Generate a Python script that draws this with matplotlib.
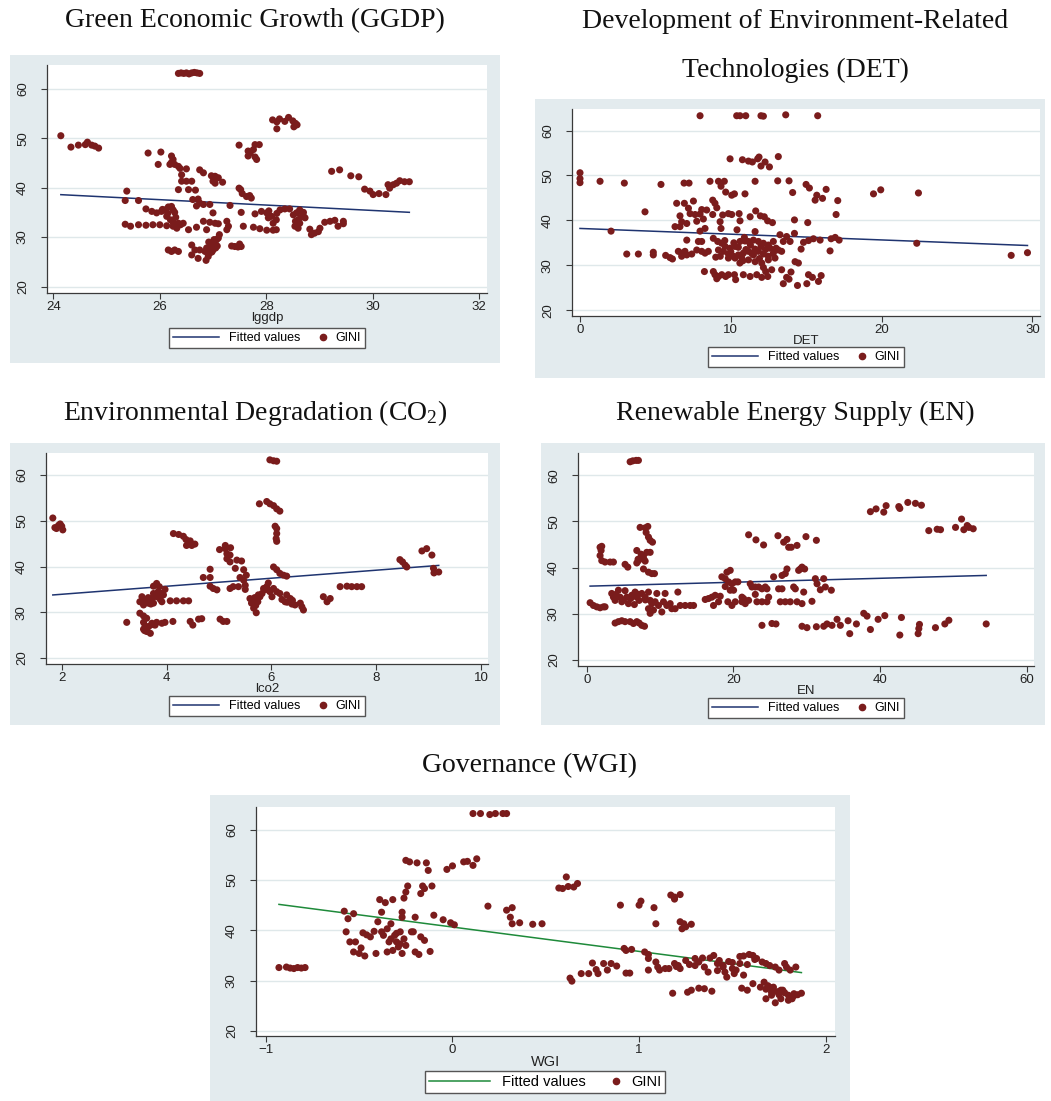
import matplotlib
matplotlib.use("Agg")
import matplotlib.pyplot as plt
import numpy as np
from matplotlib.patches import Rectangle
from matplotlib.lines import Line2D
from matplotlib.legend_handler import HandlerLine2D

plt.rcParams['font.family'] = ['Liberation Sans', 'DejaVu Sans']
plt.rcParams['mathtext.fontset'] = 'custom'
plt.rcParams['mathtext.rm'] = 'Liberation Serif'
plt.rcParams['mathtext.it'] = 'Liberation Serif'

# ---------------- data ----------------
legend_labels = ["Fitted values", "GINI"]

# Green economic growth (log GGDP) vs GINI
ggdp_x = [24.14, 24.33, 24.47, 24.6, 24.64, 24.72, 24.78, 24.85,
          26.35, 26.4, 26.45, 26.5, 26.55, 26.6, 26.65, 26.7, 26.75,
          28.12, 28.2, 28.2, 28.25, 28.35, 28.42, 28.5, 28.52, 28.55, 28.58,
          27.49, 27.66, 27.66, 27.76, 27.79, 27.87, 27.82, 27.79, 27.70,
          25.78, 26.02, 25.97, 26.22, 26.25, 26.19, 26.28, 26.35, 26.38, 26.5, 26.41, 26.35, 26.54, 26.67, 26.41, 26.5, 26.6, 26.22,
          26.75, 26.82, 26.97, 27.04, 27.1, 27.0, 27.04, 27.18,
          27.49, 27.52, 27.55, 27.63, 27.69, 27.72,
          25.38, 25.35, 25.6,
          29.23, 29.38, 29.59, 29.74,
          29.85, 29.95, 30.01, 30.12, 30.25, 30.29, 30.32, 30.39, 30.45, 30.51, 30.6, 30.69,
          25.74, 25.85, 25.94, 26.03, 26.1, 26.16, 26.22, 26.25, 26.28, 26.13,
          25.35, 25.45, 25.6, 25.74, 25.87, 26.0, 26.13, 26.25, 26.32, 26.39, 26.44, 26.54, 26.69,
          26.62, 26.72, 26.75, 26.82, 26.94, 26.69, 27.0, 26.82, 26.94, 27.04, 27.1, 27.26, 27.29, 27.26, 26.88, 27.32, 27.53, 27.57,
          26.6, 26.66, 26.75, 26.85, 26.6, 26.72, 26.87, 26.91, 26.94, 26.97, 27.0, 27.04, 27.07, 27.1, 27.12, 26.94, 27.0, 27.05, 26.88,
          26.16, 26.22, 26.28, 26.35,
          27.35, 27.41, 27.47, 27.53, 27.5,
          27.79, 27.91, 28.01, 28.04, 28.1, 28.13, 28.19, 28.26, 28.35, 28.44, 28.51, 28.57, 28.63, 28.69, 28.73, 28.63, 28.54, 28.6,
          27.76, 27.88, 28.01, 28.13, 28.19,
          28.82, 28.85, 28.91, 28.98, 29.01,
          29.1, 29.2, 29.29, 29.35, 29.45, 29.45,
          26.2, 26.3, 26.25, 26.35, 26.05, 26.15, 26.95, 27.02, 27.08, 26.98, 26.92, 28.6, 28.65, 28.55, 28.7, 28.05, 28.2]
ggdp_gini = [50.5, 48.2, 48.6, 48.7, 49.2, 48.6, 48.4, 48.0,
             63.1, 63.2, 63.1, 63.2, 63.0, 63.2, 63.3, 63.2, 63.1,
             53.7, 53.3, 51.9, 53.9, 53.4, 54.2, 53.5, 52.3, 53.0, 52.7,
             48.6, 47.4, 46.4, 47.7, 48.7, 48.7, 45.7, 46.2, 47.0,
             47.0, 47.2, 44.7, 46.4, 45.7, 44.7, 44.7, 44.3, 43.9, 43.8, 42.6, 39.6, 39.6, 39.5, 41.3, 41.3, 41.3, 45.1,
             43.6, 43.0, 42.4, 42.3, 42.0, 41.3, 40.9, 41.1,
             39.9, 39.6, 38.8, 38.2, 38.4, 37.9,
             39.3, 37.4, 37.4,
             43.3, 43.6, 42.4, 42.2,
             39.7, 39.3, 38.6, 38.8, 38.6, 40.6, 39.9, 40.6, 40.9, 41.4, 41.2, 41.2,
             35.7, 35.2, 34.9, 35.2, 35.5, 36.1, 36.2, 35.5, 35.0, 34.2,
             32.6, 32.2, 32.5, 32.4, 32.5, 32.5, 32.3, 32.2, 31.8, 32.5, 32.8, 31.5, 32.0,
             37.6, 37.7, 36.9, 36.6, 36.6, 36.3, 34.9, 33.2, 33.0, 32.8, 32.7, 33.2, 32.2, 31.5, 31.5, 36.4, 35.0, 32.2,
             28.4, 27.4, 27.4, 27.1, 26.4, 25.7, 25.3, 26.1, 27.4, 28.1, 28.8, 29.1, 29.5, 29.8, 30.5, 26.8, 27.4, 27.8, 27.8,
             27.4, 27.1, 27.4, 27.1,
             28.2, 28.1, 28.0, 28.1, 28.6,
             34.7, 35.2, 34.9, 33.9, 34.2, 32.8, 33.5, 35.5, 35.7, 35.7, 34.5, 34.9, 35.5, 34.5, 33.9, 32.8, 32.2, 31.8,
             32.0, 31.7, 31.4, 31.4, 31.5,
             31.6, 30.5, 30.8, 31.1, 31.8,
             33.0, 33.2, 33.4, 32.2, 33.2, 32.7,
             33.5, 34.0, 33.0, 32.8, 35.6, 34.8, 28.5, 29.5, 28.2, 27.0, 29.0, 33.5, 34.0, 33.2, 35.0, 35.3, 34.8]
ggdp_fit = (51.74, -0.545)   # intercept, slope

# Environment-related technologies (DET) vs GINI
det_x = [7.96, 10.39, 10.61, 10.99, 12.0, 12.16, 13.64, 15.76,
         9.95, 10.77, 11.17, 11.43, 11.78, 11.87, 12.27, 12.0, 12.56, 13.15,
         0, 0, 0, 1.33, 2.06, 2.94, 5.37, 6.9, 7.23, 8.62, 9.18, 9.57, 9.35, 9.66, 10.06, 10.24, 10.94, 11.61, 13.11, 13.86, 14.1, 14.99, 15.21, 15.7, 15.59, 16.08, 16.32, 17.09, 16.98, 19.46, 19.94, 22.44, 22.33, 28.59, 29.67,
         4.31,
         3.1, 3.87, 4.86, 4.86, 5.68, 5.97, 6.13,
         6.41, 6.92, 7.52, 7.19, 8.07, 8.4, 6.63, 6.74, 6.3, 6.63, 7.08, 7.3, 7.63, 7.96, 8.18, 7.74, 7.96, 8.29, 7.08, 7.85, 8.07,
         6.52, 6.74, 6.96, 6.74, 7.08, 7.41, 7.74, 8.07, 8.29, 8.51,
         8.8, 8.95, 9.07, 8.8, 9.29, 9.35, 9.46, 9.84, 10.06, 10.55, 10.61, 10.41, 11.28, 11.65, 11.96, 12.22, 12.44, 12.76, 11.61, 14.22, 14.22, 15.1,
         8.84, 9.13, 9.4, 9.62, 9.95, 10.28, 10.61, 10.94, 11.17, 11.5, 11.83, 12.16, 12.49, 12.82,
         9.18, 9.51, 9.84, 10.17, 10.5, 10.83, 11.17, 11.5, 11.83, 12.16, 12.49, 12.82,
         9.84, 10.28, 10.72, 11.17, 11.61, 12.05, 12.49, 12.93,
         13.37, 13.15, 13.48, 13.26, 13.7, 13.93, 14.26, 14.48, 14.66, 14.82, 15.15, 15.48, 15.92, 16.58, 16.65, 16.92, 17.18,
         8.25, 8.84, 8.95, 9.18, 9.4, 9.66, 9.07, 9.84, 10.24, 10.32, 10.83, 11.28, 11.72, 12.05, 12.45, 12.16, 12.31, 12.71, 13.37, 13.48, 13.7, 13.99, 13.86, 14.42, 15.04, 15.15, 15.41, 15.81, 15.99,
         10.0, 10.5, 11.0, 11.3, 10.8, 11.9, 12.3, 9.3, 10.2, 11.6, 12.6, 9.0, 10.6, 11.4, 12.0, 9.6, 10.9, 13.0]
det_gini = [63.3, 63.3, 63.3, 63.3, 63.3, 63.2, 63.5, 63.3,
            53.7, 53.5, 53.2, 53.0, 53.7, 54.1, 53.0, 52.1, 51.9, 54.2,
            50.6, 49.3, 48.4, 48.7, 37.6, 48.3, 48.0, 48.3, 48.3, 48.7, 48.7, 48.7, 47.6, 46.3, 45.6, 45.9, 45.9, 48.7, 48.8, 48.8, 46.2, 48.0, 47.2, 45.6, 44.5, 44.9, 46.9, 44.4, 41.3, 45.9, 46.8, 46.1, 34.9, 32.2, 32.8,
            41.9,
            32.5, 32.5, 32.9, 32.3, 32.2, 31.7, 31.4,
            43.8, 43.8, 44.3, 42.7, 42.4, 42.3, 41.0, 39.7, 38.6, 38.6, 39.3, 41.5, 41.3, 41.4, 40.3, 39.8, 37.6, 38.2, 35.6, 35.3, 35.3,
            33.1, 32.7, 33.1, 32.0, 32.3, 32.5, 33.4, 33.1, 32.7, 33.1,
            44.5, 43.8, 42.8, 41.3, 39.7, 38.2, 41.2, 41.5, 41.3, 41.5, 39.9, 37.9, 40.8, 42.1, 41.0, 40.8, 39.9, 39.5, 37.5, 40.1, 37.1, 39.5,
            36.0, 35.3, 34.9, 34.2, 33.8, 34.2, 35.3, 35.4, 35.3, 35.6, 35.3, 34.9, 34.5, 35.3,
            33.4, 33.1, 32.5, 32.0, 32.3, 32.7, 33.1, 32.3, 33.1, 32.5, 32.0, 32.7,
            31.6, 31.6, 31.7, 31.2, 30.8, 30.5, 31.2, 31.6,
            33.1, 33.4, 35.3, 36.8, 36.4, 35.3, 30.8, 30.5, 33.6, 35.1, 35.5, 35.9, 35.6, 33.2, 35.9, 36.2, 35.6,
            28.6, 28.6, 27.9, 27.5, 27.9, 27.5, 27.0, 27.9, 27.9, 26.8, 27.9, 27.5, 27.9, 27.3, 27.5, 29.5, 28.6, 29.0, 29.0, 25.9, 27.3, 28.5, 26.9, 25.5, 25.9, 27.9, 27.3, 26.4, 27.7,
            33.0, 34.0, 33.5, 34.5, 31.0, 31.5, 33.5, 32.0, 35.0, 33.6, 33.8, 31.8, 30.5, 32.6, 34.2, 35.5, 36.2, 33.8]
det_fit = (38.2, -0.128)

# Environmental degradation (log CO2) vs GINI
co2_x = [1.83, 1.87, 1.94, 1.97, 2.0, 2.02, 1.9,
         3.24,
         3.49, 3.56, 3.62, 3.56, 3.59, 3.56, 3.62, 3.69, 3.63, 3.72, 3.81, 3.91, 3.97, 3.78, 4.12,
         3.49, 3.53, 3.59, 3.56, 3.65, 3.72, 3.75, 3.81, 3.88, 3.75, 3.84, 3.75, 3.81, 3.86, 3.91, 3.97, 3.94, 3.91,
         4.07, 4.19, 4.32, 4.42,
         4.13, 4.23, 4.32, 4.37, 4.45, 4.38, 4.48, 4.54,
         4.45, 4.5, 4.61, 4.67,
         4.7, 4.83, 4.83, 4.83, 4.89, 4.96,
         5.01, 5.12, 5.12, 5.22, 5.15, 5.21, 5.15, 5.21, 5.34, 5.43, 5.31, 5.47,
         5.02, 5.08, 5.15,
         5.21, 5.27, 5.37, 5.4, 5.47, 5.5, 5.5, 5.52,
         5.77, 5.91, 5.97, 6.04, 6.1, 6.16, 6.04, 6.1, 5.97, 6.07, 6.1, 6.1, 6.09, 6.1, 6.04, 6.1, 6.16, 6.23, 6.29,
         5.59, 5.62, 5.66, 5.71, 5.72, 5.75, 5.78, 5.82, 5.86, 5.91, 5.94, 5.97, 6.01, 6.04, 6.1, 6.16, 6.2, 6.26, 6.29, 6.36, 6.39, 6.45, 6.55, 6.58, 6.61,
         6.99, 7.06, 7.12,
         7.31, 7.44, 7.53, 7.63, 7.72,
         8.45, 8.5, 8.55, 8.58,
         8.87, 8.96, 9.06,
         9.09, 9.1, 9.19,
         3.6, 3.7, 3.65, 3.58, 3.66, 3.75, 5.7, 5.74, 5.68, 5.85, 5.95, 6.3, 6.4]
co2_gini = [50.6, 48.5, 49.0, 49.3, 48.8, 48.0, 48.3,
            27.8,
            29.8, 29.2, 28.7, 27.8, 27.0, 26.3, 25.8, 25.4, 26.7, 27.6, 27.8, 27.6, 27.8, 27.2, 28.0,
            32.3, 33.4, 32.7, 31.6, 32.0, 33.0, 32.0, 33.4, 32.8, 34.1, 34.5, 35.7, 36.3, 35.6, 34.1, 35.0, 33.8, 32.3,
            32.5, 32.5, 32.5, 32.5,
            47.2, 47.0, 46.6, 45.9, 45.6, 44.6, 44.6, 44.9,
            28.0, 27.2, 28.5, 28.6,
            37.6, 37.6, 39.4, 35.7, 35.2, 34.9,
            43.7, 43.9, 44.6, 44.1, 42.8, 42.5, 41.7, 41.0, 41.4, 41.2, 39.6, 39.3,
            28.5, 28.0, 28.0,
            35.2, 35.6, 35.6, 37.6, 37.0, 35.9, 35.0, 38.1,
            53.7, 54.2, 53.7, 53.3, 52.6, 52.1, 63.1, 63.0, 63.3, 48.8, 48.3, 47.2, 46.1, 45.5, 39.9, 39.3, 38.5, 38.1, 37.9,
            33.0, 32.0, 30.9, 29.9, 32.7, 33.8, 33.4, 34.1, 34.9, 35.6, 36.4, 34.5, 33.4, 35.2, 34.5, 34.1, 32.8, 32.3, 33.8, 33.0, 31.8, 31.6, 32.0, 31.2, 30.5,
            33.4, 32.3, 33.0,
            35.6, 35.7, 35.6, 35.6, 35.6,
            41.5, 41.0, 40.3, 39.9,
            43.4, 43.9, 42.5,
            39.6, 38.6, 38.8,
            32.5, 31.8, 33.2, 26.0, 26.9, 27.3, 31.5, 32.3, 33.2, 35.2, 34.8, 32.2, 32.6]
co2_fit = (32.18, 0.877)

# Renewable energy supply (EN) vs GINI
en_x = [5.92, 6.28, 6.74, 7.05,
        1.82, 1.96, 2.05, 1.82, 2.05, 2.5, 3.19, 3.64,
        5.23, 5.6,
        6.83, 7.05, 6.83, 7.51, 7.74, 8.19, 7.42, 7.97, 8.65, 7.28, 7.97, 8.33, 8.1, 8.42, 8.65, 8.97, 7.74, 8.42, 8.88, 9.24,
        0.46, 0.91, 1.37, 1.82, 2.28, 2.5,
        3.41, 3.64, 3.87, 4.32, 4.55, 4.78, 5.23, 5.46, 5.69, 6.14, 6.6, 6.83, 7.15, 7.51, 7.97, 8.42, 8.65, 8.88, 8.42, 8.65,
        9.1, 9.33, 9.56, 9.79, 10.24, 10.47, 10.92, 10.69, 11.38, 11.6, 12.06, 12.43, 12.75, 13.43, 14.11, 14.57,
        3.87, 4.32, 4.78, 5.23, 5.92, 6.37, 6.83, 7.15, 7.51, 7.88,
        16.16, 16.61, 17.07, 17.52, 17.29, 17.98, 18.21, 18.43, 18.89, 19.12, 19.57, 19.34, 18.89, 19.8, 19.57, 20.03, 20.26, 20.62, 19.25, 19.8, 20.26, 21.17, 21.17, 21.39, 22.08, 21.62,
        22.3, 22.53, 22.99, 23.44, 23.9, 24.35, 24.58, 22.99, 23.21, 23.9, 24.58, 24.81, 25.49, 26.17, 26.63, 26.4, 26.63, 27.08, 27.31, 27.08, 27.76, 28.22, 28.45, 28.68, 28.9, 29.13, 29.36, 29.72, 29.36, 29.59,
        22.08, 23.08, 24.12, 26.08, 26.86, 27.31, 27.54, 27.9, 28.68, 29.9, 31.32,
        31.18, 31.41, 31.86, 32.32, 32.54, 33.36, 30.72,
        23.9, 25.26, 25.81, 29.36, 30.04, 31.32, 32.32, 32.77, 33.45, 34.14, 34.59, 35.64, 35.87, 36.78, 37.78, 38.23, 38.69, 39.74, 40.65, 42.92, 42.7, 45.2, 45.29, 45.38, 47.56, 48.84, 49.39, 54.48,
        38.69, 39.46, 40.51, 40.83, 42.56, 42.7, 43.79, 44.83, 45.65,
        46.65, 47.79, 48.25, 50.3, 51.12, 51.43, 51.89, 52.12, 52.71,
        7.0, 7.3, 7.8, 5.0, 6.0, 7.0, 8.0, 4.0, 6.5]
en_gini = [62.9, 63.1, 63.2, 63.2,
           44.4, 43.7, 44.6, 42.6, 41.5, 41.2, 41.2, 41.2,
           40.7, 40.1,
           43.7, 41.5, 41.0, 42.3, 42.6, 43.3, 42.9, 41.4, 43.3, 48.7, 48.6, 48.9, 47.6, 46.6, 45.9, 45.5, 39.7, 39.0, 38.7, 38.7,
           32.4, 31.8, 31.5, 31.3, 31.5, 31.5,
           34.4, 33.6, 32.9, 35.1, 33.6, 32.6, 35.0, 33.6, 32.2, 34.0, 34.7, 33.6, 32.9, 34.4, 33.6, 34.7, 32.9, 32.2, 31.1, 30.1,
           30.8, 32.6, 34.4, 31.8, 30.4, 32.6, 31.8, 34.4, 32.2, 31.1, 31.1, 34.7, 31.8, 31.8, 31.8, 31.8,
           28.0, 28.3, 28.5, 28.3, 28.3, 27.9, 28.3, 28.0, 27.5, 27.3,
           33.1, 33.3, 33.6, 34.0, 31.8, 32.6, 33.8, 38.0, 37.6, 39.0, 39.4, 36.9, 35.9, 36.5, 35.1, 35.1, 36.9, 36.9, 32.6, 31.8, 32.6, 33.6, 32.6, 33.3, 32.9, 32.2,
           36.5, 35.8, 35.8, 35.8, 35.4, 35.8, 35.4, 34.2, 32.6, 32.6, 32.6, 33.6, 38.0, 35.4, 35.4, 32.6, 38.3, 38.7, 39.7, 32.6, 32.6, 35.8, 35.4, 32.6, 39.4, 39.7, 40.1, 39.7, 32.2, 34.7,
           47.1, 46.0, 44.9, 46.9, 45.5, 46.1, 44.4, 44.4, 44.8, 46.7, 45.9,
           37.6, 36.5, 35.2, 37.6, 35.8, 35.1, 32.7,
           27.5, 27.9, 27.8, 27.3, 27.0, 27.2, 27.3, 27.8, 27.5, 28.8, 27.5, 28.5, 25.7, 27.8, 30.1, 29.5, 26.6, 28.8, 29.6, 29.2, 25.4, 25.7, 26.8, 27.7, 27.0, 27.8, 28.6, 27.8,
           52.1, 52.7, 52.0, 53.4, 53.2, 52.8, 54.1, 53.9, 53.5,
           48.0, 48.3, 48.2, 48.7, 50.5, 48.2, 49.1, 48.7, 48.4,
           41.8, 42.0, 41.8, 33.0, 33.3, 34.2, 33.0, 34.2, 32.0]
en_fit = (35.97, 0.0428)

# Governance (WGI) vs GINI
wgi_x = [-0.93, -0.89, -0.87, -0.85, -0.83, -0.81, -0.79,
         0.11, 0.15, 0.2, 0.23, 0.27, 0.29,
         -0.25, -0.23, -0.19, -0.14, -0.13, -0.03, 0.0, 0.06, 0.08, 0.11, 0.13,
         -0.24, -0.25, -0.26, -0.16, -0.15, -0.17, -0.11, 0.61, 0.57, 0.59, 0.62, 0.65, 0.67,
         -0.39, -0.36, -0.32, 0.19, 0.29, 0.32, 0.9, 1.0, 1.01, 1.08, 1.17, 1.19, 1.22, 1.19,
         -0.58, -0.53, -0.56, -0.38, -0.27, -0.2, -0.1, -0.05, -0.01, 0.01, 0.31, 0.32, 0.36, 0.43, 0.48, 1.09, 1.22, 1.24, 1.25, 1.28, 1.23,
         -0.57, -0.55, -0.52, -0.53, -0.5, -0.49, -0.47, -0.48, -0.46, -0.44, -0.42, -0.41, -0.4, -0.38, -0.37, -0.35, -0.35, -0.34,
         -0.33, -0.31, -0.32, -0.3, -0.29, -0.28, -0.27, -0.26, -0.25, -0.22, -0.2, -0.18, -0.17, -0.15, -0.12, -0.27, -0.21,
         0.92, 0.93, 0.96,
         0.63, 0.64, 0.69, 0.73, 0.75, 0.77, 0.78, 0.81, 0.83, 0.85, 0.88, 0.93, 0.95,
         1.03, 1.05, 1.05, 1.05, 1.09, 1.1, 1.11, 1.14, 1.16, 1.19, 1.21, 1.22, 1.25, 1.27, 1.3, 1.32, 1.34, 1.35, 1.37, 1.38,
         1.4, 1.42, 1.43, 1.45, 1.46, 1.47, 1.48, 1.5, 1.51, 1.52, 1.54, 1.56, 1.54, 1.56, 1.59, 1.61, 1.63, 1.66, 1.68, 1.7,
         1.73, 1.75, 1.78, 1.79, 1.81, 1.84,
         1.18, 1.26, 1.28, 1.32, 1.35, 1.39, 1.55, 1.58, 1.61, 1.65, 1.67, 1.68, 1.71, 1.72, 1.75, 1.76, 1.77, 1.8, 1.82, 1.83,
         1.85, 1.87, 1.68, 1.73, 1.8, 1.71, 1.76,
         1.45, 1.5, 1.42, 1.58, 1.62, 1.7, 1.74, 1.78, 1.69, 1.83, 1.3, 1.2, -0.3, -0.33, -0.28]
wgi_gini = [32.6, 32.7, 32.5, 32.4, 32.6, 32.5, 32.6,
            63.2, 63.2, 63.0, 63.2, 63.2, 63.2,
            53.9, 53.6, 53.4, 53.4, 51.9, 52.1, 52.8, 53.6, 53.7, 52.9, 54.2,
            48.8, 47.6, 46.4, 48.8, 48.3, 47.3, 48.8, 50.6, 48.4, 48.3, 48.7, 48.6, 49.3,
            46.1, 45.5, 46.1, 44.8, 44.0, 44.5, 45.0, 45.0, 45.8, 44.5, 47.0, 46.2, 47.1, 46.6,
            43.8, 43.3, 42.3, 43.6, 43.6, 42.6, 43.0, 42.1, 41.5, 41.1, 42.6, 41.3, 41.5, 41.2, 41.3, 41.3, 41.7, 41.3, 40.7, 41.2, 40.3,
            39.7, 37.7, 37.7, 35.7, 35.4, 36.5, 34.9, 39.5, 39.1, 38.7, 39.8, 35.4, 41.7, 39.7, 39.0, 40.3, 35.7, 37.7,
            41.3, 39.0, 36.0, 37.7, 36.7, 39.7, 35.4, 38.3, 37.0, 39.7, 35.7, 35.2, 38.7, 38.0, 35.8, 42.6, 39.7,
            36.4, 36.0, 36.2,
            30.5, 29.9, 31.4, 31.4, 33.5, 32.2, 31.4, 33.4, 32.1, 33.4, 32.9, 31.5, 31.5,
            35.7, 35.2, 34.4, 32.1, 33.7, 32.7, 32.1, 32.4, 32.4, 33.4, 33.0, 32.4, 34.0, 33.2, 34.4, 33.7, 34.5, 32.7, 31.7, 34.5,
            35.0, 33.4, 34.0, 32.7, 31.7, 30.7, 33.8, 32.4, 31.4, 32.1, 33.4, 31.1, 34.8, 34.9, 35.2, 35.0, 34.4, 33.7, 33.4, 33.0,
            32.7, 32.1, 33.4, 32.7, 32.1, 32.7,
            27.5, 27.7, 28.1, 28.5, 28.4, 27.9, 28.5, 28.1, 29.4, 28.7, 29.7, 28.3, 27.7, 28.7, 27.2, 26.4, 28.1, 27.1, 26.4, 27.4,
            27.2, 27.5, 26.4, 25.6, 26.1, 27.1, 28.1,
            33.0, 33.6, 32.0, 33.2, 34.2, 28.7, 27.8, 27.6, 29.0, 27.0, 33.0, 32.8, 39.4, 38.3, 37.3]
wgi_fit = (40.65, -4.84)

# ---------------- drawing ----------------
W, H = 1051, 1101
BG = "#e3ebee"
DOT = "#7a1c1c"
NAVY = "#1f3470"
GREEN = "#1e8a3a"

fig = plt.figure(figsize=(W / 100, H / 100), dpi=100)


def fig_rect(x0, y0, x1, y1):
    return [x0 / W, 1 - y1 / H, (x1 - x0) / W, (y1 - y0) / H]


class DotHandler(HandlerLine2D):
    """Legend handle that draws a single dot close to its label."""
    def create_artists(self, legend, orig_handle, xdescent, ydescent,
                       width, height, fontsize, trans):
        m = Line2D([width - xdescent - 0.35 * height], [0.5 * height - ydescent],
                   marker="o", ls="", color=orig_handle.get_color(),
                   markersize=orig_handle.get_markersize())
        m.set_transform(trans)
        return [m]


def panel(outer, inner, x, y, fit, xlim, xticks, xlabel, legend_c,
          title_lines, fit_color=NAVY, ylim=(18.7, 64.8),
          label_size=9.5, legend_size=9, handle_len=3.7, col_space=-1.7):
    ox0, oy0, ox1, oy1 = outer
    fig.patches.append(Rectangle((ox0 / W, 1 - oy1 / H), (ox1 - ox0) / W,
                                 (oy1 - oy0) / H, transform=fig.transFigure,
                                 facecolor=BG, edgecolor="none", zorder=-5))
    ax = fig.add_axes(fig_rect(*inner))
    ax.set_zorder(2)
    ax.set_facecolor("white")
    ax.set_xlim(*xlim)
    ax.set_ylim(*ylim)
    ax.set_xticks(xticks)
    ax.set_yticks([20, 30, 40, 50, 60])
    ax.yaxis.grid(True, color="#dfe8ea", lw=1.0)
    ax.set_axisbelow(True)
    for s in ("top", "right"):
        ax.spines[s].set_visible(False)
    for s in ("left", "bottom"):
        ax.spines[s].set_color("#3a3a3a")
        ax.spines[s].set_linewidth(0.9)
    ax.tick_params(direction="out", length=4, width=0.8, color="#3a3a3a",
                   labelsize=9.5, labelcolor="#222222")
    ax.tick_params(axis="x", pad=2)
    ax.tick_params(axis="y", pad=9)
    for lab in ax.get_yticklabels():
        lab.set_rotation(90)
        lab.set_va("center")
    ax.set_xlabel(xlabel, fontsize=label_size, labelpad=-1, color="#222222")

    xs = np.array([min(x), max(x)])
    ax.plot(xs, fit[0] + fit[1] * xs, color=fit_color, lw=1.1, zorder=2)
    ax.scatter(x, y, s=26, color=DOT, edgecolors="none", zorder=3)

    h_fit = Line2D([], [], color=fit_color, lw=1.1)
    h_dot = Line2D([], [], marker="o", ls="", color=DOT, markersize=4.5)
    leg = fig.legend([h_fit, h_dot], legend_labels, loc="center",
                     bbox_to_anchor=(legend_c[0] / W, 1 - legend_c[1] / H),
                     ncol=2, frameon=True, fancybox=False, framealpha=1,
                     edgecolor="#555555", facecolor="white",
                     fontsize=legend_size, handlelength=handle_len,
                     columnspacing=col_space, handletextpad=0.8,
                     borderpad=0.3, borderaxespad=0,
                     handler_map={h_dot: DotHandler()})
    leg.set_zorder(3)

    for tx, ty, txt in title_lines:
        fig.text(tx / W, 1 - ty / H, txt, ha="center", va="center",
                 fontsize=20, family="Liberation Serif", color="#111111")
    return ax


panel((10, 55, 500, 363), (47, 65, 487, 293), ggdp_x, ggdp_gini, ggdp_fit,
      (23.88, 32.15), [24, 26, 28, 30, 32], "lggdp", (267, 338),
      [(255, 21, "Green Economic Growth (GGDP)")])

panel((535, 99, 1045, 378), (572, 109, 1040, 316), det_x, det_gini, det_fit,
      (-0.53, 30.5), [0, 10, 20, 30], "DET", (806, 357),
      [(795, 21, "Development of Environment-Related"),
       (795, 70, "Technologies (DET)")])

panel((10, 443, 500, 725), (46, 453, 488, 664), co2_x, co2_gini, co2_fit,
      (1.70, 10.13), [2, 4, 6, 8, 10], "lco2", (267, 706),
      [(255, 413, r"Environmental Degradation (CO$_{2}$)")])

panel((541, 443, 1045, 725), (578, 453, 1034, 666), en_x, en_gini, en_fit,
      (-1.19, 61.0), [0, 20, 40, 60], "EN", (806, 708),
      [(795, 413, "Renewable Energy Supply (EN)")])

panel((210, 795, 850, 1101), (256, 807, 835, 1036), wgi_x, wgi_gini, wgi_fit,
      (-1.053, 2.05), [-1, 0, 1, 2], "WGI", (545, 1082),
      [(530, 766, "Governance (WGI)")], fit_color=GREEN, ylim=(19.0, 64.5),
      label_size=10.5, legend_size=10.5, handle_len=4.2, col_space=-1.9)

fig.savefig("out.png", dpi=100, facecolor="white")
